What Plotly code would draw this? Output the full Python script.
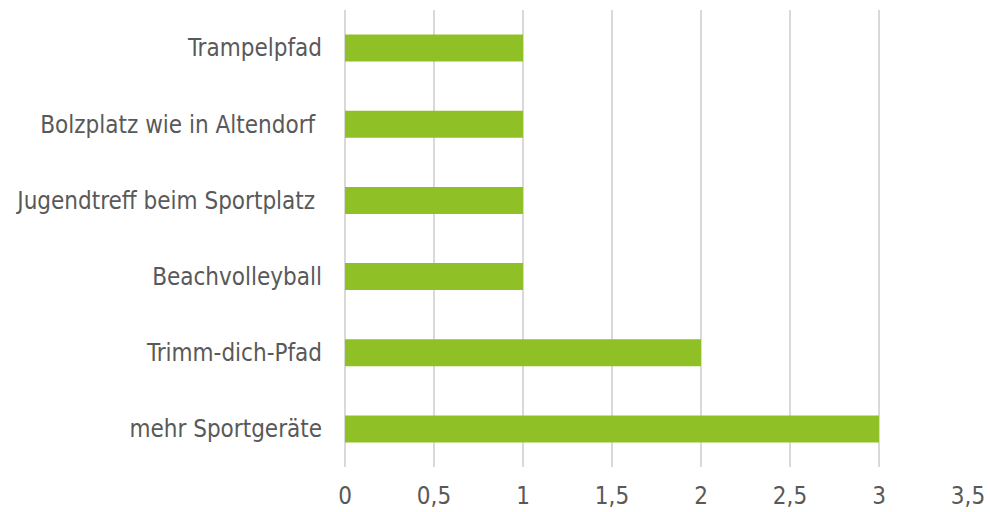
import plotly.graph_objects as go

categories = ["mehr Sportgeräte", "Trimm-dich-Pfad", "Beachvolleyball",
              "Jugendtreff beim Sportplatz\u00a0", "Bolzplatz wie in Altendorf\u00a0", "Trampelpfad"]
values = [3, 2, 1, 1, 1, 1]
tick_vals = [0, 0.5, 1, 1.5, 2, 2.5, 3, 3.5]
tick_text = ["0", "0,5", "1", "1,5", "2", "2,5", "3", "3,5"]

fig = go.Figure(go.Bar(
    x=values, y=categories, orientation="h",
    marker=dict(color="#8FC126", line=dict(width=0)),
))
fig.update_layout(
    width=990, height=512,
    margin=dict(l=345, r=22, t=10, b=45, autoexpand=False),
    paper_bgcolor="white", plot_bgcolor="white",
    bargap=0.645,
    showlegend=False,
    font=dict(family="DejaVu Sans Condensed, DejaVu Sans", size=24, color="#595959"),
)
fig.update_xaxes(range=[0, 3.5], tickvals=tick_vals, ticktext=tick_text,
                 showgrid=True, gridcolor="#D9D9D9", gridwidth=2,
                 zeroline=True, zerolinecolor="#D9D9D9", zerolinewidth=2,
                 showline=False, ticks="", ticklabelstandoff=12, automargin=False)
fig.update_yaxes(showgrid=False, zeroline=False, showline=False, ticks="",
                 ticklabelstandoff=22, automargin=False)
fig.write_html("out.html",
               config={"displayModeBar": False},
               post_script="document.body.style.margin='0';document.body.style.overflow='hidden';")
